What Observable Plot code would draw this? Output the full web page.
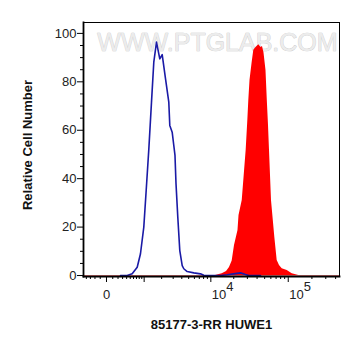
<!DOCTYPE html>
<html>
<head>
<meta charset="utf-8">
<script src="https://cdn.jsdelivr.net/npm/d3@7"></script>
<script src="https://cdn.jsdelivr.net/npm/@observablehq/plot@0.6"></script>
<style>
  html, body { margin: 0; padding: 0; background: #fff; }
  #chart { width: 361px; height: 356px; }
</style>
</head>
<body>
<div id="chart"></div>
<script>
// Control (isotype) histogram – blue outline
const ctrlX = [252, 415, 558, 725, 848, 985, 1092, 1218, 1359, 1488, 1651, 1868, 2040, 2297, 2580, 2671, 2900, 3064, 3190, 3300, 3505, 3745, 4055, 4270, 4770, 5885, 7265, 8050, 9900, 13400, 16400, 19850, 24450, 28350, 31300, 44250];
const ctrlY = [0, 0, 0.7, 3.4, 9.0, 20.0, 35.1, 52, 71.6, 88.1, 96.4, 89.5, 91.2, 81.3, 71.6, 62.0, 59.2, 53.7, 49.6, 38.0, 24.1, 10.3, 4.1, 2.8, 1.65, 1.1, 0.7, 0.1, 0, 0, 0.3, 0.7, 1.1, 0.4, 0, 0];

// Stained sample histogram – red fill
const sampleX = [-478, 11540, 14130, 16100, 17600, 19080, 20450, 22700, 23400, 25750, 27300, 28950, 30400, 31300, 32450, 34600, 36300, 38700, 42050, 44900, 46900, 49000, 52000, 54050, 56000, 57650, 61150, 67400, 72300, 77350, 83750, 97000, 112300, 136200, 448000];
const sampleY = [0, 0, 0.7, 1.65, 3.3, 6.0, 12.4, 18.6, 24.8, 31.0, 41.3, 51.7, 64.0, 72.3, 80.6, 88.1, 93.0, 94.2, 95.3, 94.2, 94.6, 92, 84.7, 72.3, 62.0, 51.7, 31.0, 15.8, 6.2, 4.1, 2.8, 2.1, 0.7, 0, 0];

// Axis ticks and labels
const yMajor = [0, 20, 40, 60, 80, 100];
const yMinor = [5, 10, 15, 25, 30, 35, 45, 50, 55, 65, 70, 75, 85, 90, 95];
const xMajor = [0, 1000, 10000, 100000];
const xMinor = [-400, -300, -200, -100, 100, 200, 300, 400, 500, 600, 700, 800, 900,
  2000, 3000, 4000, 5000, 6000, 7000, 8000, 9000,
  20000, 30000, 40000, 50000, 60000, 70000, 80000, 90000,
  200000, 300000, 400000];
const xZeroLabel = ["0"];
const xPowTicks = [10000, 100000];
const xPowBase = ["10", "10"];
const xPowExp = ["4", "5"];
const xTitle = "85177-3-RR HUWE1";
const yTitle = "Relative Cell Number";
const watermark = "WWW.PTGLAB.COM";

const ctrl = ctrlX.map((x, i) => ({x, y: ctrlY[i]}));
const sample = sampleX.map((x, i) => ({x, y: sampleY[i]}));
const pow = xPowTicks.map((x, i) => ({x, base: xPowBase[i], exp: xPowExp[i]}));

const font = "'Liberation Sans', Arial, Helvetica, sans-serif";

const chart = Plot.plot({
  width: 361,
  height: 356,
  marginLeft: 83,
  marginRight: 22,
  marginTop: 22,
  marginBottom: 80,
  style: {fontFamily: font, fontSize: "13px", color: "#222", background: "#fff", overflow: "visible"},
  x: {type: "symlog", constant: 500, domain: [-478, 448000]},
  y: {domain: [-0.4, 104.5]},
  marks: [
    Plot.text([watermark], {frameAnchor: "top", dx: 6, dy: 10.5, fontSize: 25, fill: "#ececec", stroke: "#c8c8c8", strokeWidth: 0.7, fontFamily: font}),
    Plot.areaY(sample, {x: "x", y: "y", fill: "#ff0000", curve: "linear"}),
    Plot.ruleY([0], {stroke: "#ff8a8a", strokeWidth: 1}),
    Plot.line(ctrl, {x: "x", y: "y", stroke: "#1a1aa6", strokeWidth: 1.6, curve: "linear"}),
    Plot.frame({stroke: "#000", strokeWidth: 1}),
    Plot.frame({anchor: "left", stroke: "#000", strokeWidth: 1.8}),
    Plot.frame({anchor: "bottom", stroke: "#000", strokeWidth: 1.8}),
    Plot.axisY(yMajor, {tickSize: 6, tickPadding: 1, label: null, fontSize: 13, stroke: "#000"}),
    Plot.axisY(yMinor, {tickSize: 3, tickFormat: () => "", label: null, stroke: "#000"}),
    Plot.axisX(xMajor, {tickSize: 6, tickFormat: () => "", label: null, stroke: "#000"}),
    Plot.axisX(xMinor, {tickSize: 3, tickFormat: () => "", label: null, stroke: "#000"}),
    Plot.text(xZeroLabel.map(t => ({x: 0, t})), {x: "x", text: "t", frameAnchor: "bottom", dy: 22, fontSize: 13, fill: "#222"}),
    Plot.text(pow, {x: "x", text: "base", frameAnchor: "bottom", dy: 22, dx: 1, textAnchor: "start", fontSize: 13, fill: "#222"}),
    Plot.text(pow, {x: "x", text: "exp", frameAnchor: "bottom", dy: 14, dx: 15.5, textAnchor: "start", fontSize: 13, fill: "#222"}),
    Plot.text([xTitle], {frameAnchor: "bottom", dy: 52, fontSize: 13, fontWeight: "bold", fill: "#111"}),
    Plot.text([yTitle], {frameAnchor: "left", textAnchor: "middle", dx: -56, dy: -4.5, rotate: -90, fontSize: 13, fontWeight: "bold", fill: "#111"})
  ]
});
document.getElementById("chart").appendChild(chart);
</script>
</body>
</html>
